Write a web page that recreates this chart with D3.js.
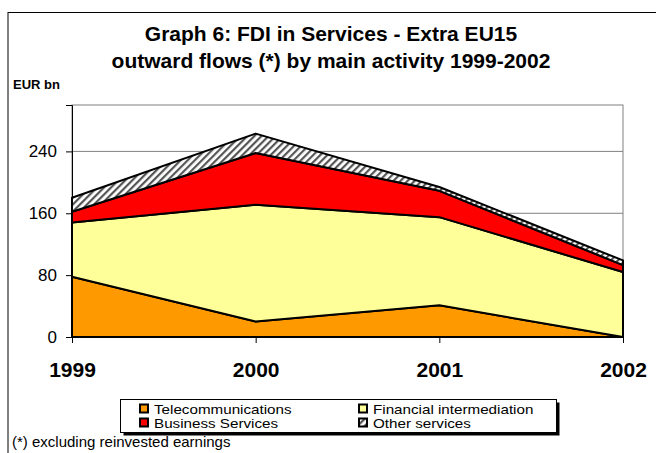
<!DOCTYPE html>
<html>
<head>
<meta charset="utf-8">
<script src="https://cdn.jsdelivr.net/npm/d3@7"></script>
<style>
  html, body { margin: 0; padding: 0; background: #fff; }
  svg { display: block; font-family: "Liberation Sans", Arial, sans-serif; }
</style>
</head>
<body>
<svg id="chart" width="656" height="453"></svg>
<script>
const years = ["1999", "2000", "2001", "2002"];
const telecom = [78, 20, 41, 0];
const financial = [70, 151, 114, 84];
const business = [14, 67, 34, 9];
const other = [18, 25, 5, 6];
const yTicks = [0, 80, 160, 240];
const seriesNames = ["Telecommunications", "Financial intermediation", "Business Services", "Other services"];
const titleLines = ["Graph 6: FDI in Services - Extra EU15", "outward flows (*) by main activity 1999-2002"];
const yUnit = "EUR bn";
const footnote = "(*) excluding reinvested earnings";

(function () {
const svg = d3.select("#chart");

// hatch pattern
const defs = svg.append("defs");
const pat = defs.append("pattern")
  .attr("id", "hatch").attr("patternUnits", "userSpaceOnUse")
  .attr("width", 5).attr("height", 5)
  .attr("patternTransform", "rotate(45)");
pat.append("rect").attr("width", 5).attr("height", 5).attr("fill", "#fff");
pat.append("rect").attr("width", 2.2).attr("height", 5).attr("fill", "#555");

// outer frame
svg.append("rect").attr("x", 8).attr("y", 12.5).attr("width", 700).attr("height", 500)
  .attr("fill", "none").attr("stroke", "#000").attr("stroke-width", 1);

// title
svg.append("g").selectAll("text").data(titleLines).join("text")
  .attr("x", 331).attr("y", (d, i) => 41 + i * 27)
  .attr("text-anchor", "middle").attr("font-weight", "bold").attr("font-size", 21)
  .text(d => d);

svg.append("text").attr("x", 13).attr("y", 89).attr("font-weight", "bold")
  .attr("font-size", 13).text(yUnit);

const pl = 72, pr = 623, pt = 105, pb = 337;
const x = d3.scalePoint().domain(years).range([pl, pr]);
const y = d3.scaleLinear().domain([0, 300]).range([pb, pt]);

// plot frame (grey) and gridline
svg.append("rect").attr("x", pl).attr("y", pt).attr("width", pr - pl).attr("height", pb - pt)
  .attr("fill", "none").attr("stroke", "#808080").attr("stroke-width", 1);
svg.append("g").selectAll("line").data(yTicks.filter(t => t > 0)).join("line")
  .attr("x1", pl).attr("x2", pr).attr("y1", d => y(d)).attr("y2", d => y(d))
  .attr("stroke", "#808080").attr("stroke-width", 1);

// stacked data
const rows = years.map((yr, i) => ({ year: yr, t: telecom[i], f: financial[i], b: business[i], o: other[i] }));
const stack = d3.stack().keys(["t", "f", "b", "o"]);
const layers = stack(rows);
const fills = ["#FF9900", "#FFFF99", "#FF0000", "url(#hatch)"];
const area = d3.area().x(d => x(d.data.year)).y0(d => y(d[0])).y1(d => y(d[1]));

svg.append("g").selectAll("path").data(layers).join("path")
  .attr("d", area)
  .attr("fill", (d, i) => fills[i])
  .attr("stroke", "#000").attr("stroke-width", 2).attr("stroke-linejoin", "round");

// axes
const yAxis = d3.axisLeft(y).tickValues(yTicks).tickSize(6).tickPadding(9);
const gy = svg.append("g").attr("transform", `translate(${pl},0)`).call(yAxis);
gy.select(".domain").attr("stroke", "#000");
gy.selectAll(".tick line").attr("stroke", "#000");
gy.selectAll("text").attr("font-size", 17).attr("fill", "#000")
  .attr("font-family", "Liberation Sans, Arial, sans-serif");

const xAxis = d3.axisBottom(x).tickSize(6).tickPadding(19);
const gx = svg.append("g").attr("transform", `translate(0,${pb})`).call(xAxis);
gx.select(".domain").attr("stroke", "#000");
gx.selectAll(".tick line").attr("stroke", "#000");
gx.selectAll("text").attr("font-size", 21).attr("font-weight", "bold").attr("fill", "#000")
  .attr("font-family", "Liberation Sans, Arial, sans-serif");

// legend
const lg = svg.append("g");
lg.append("rect").attr("x", 123.5).attr("y", 402.5).attr("width", 436).attr("height", 33).attr("fill", "#000");
lg.append("rect").attr("x", 120.5).attr("y", 399.5).attr("width", 436).attr("height", 33)
  .attr("fill", "#fff").attr("stroke", "#000").attr("stroke-width", 1);
const lpos = [[140, 409], [359, 409], [140, 423], [359, 423]];
const items = lg.selectAll("g.item").data(seriesNames).join("g").attr("class", "item")
  .attr("transform", (d, i) => `translate(${lpos[i][0]},${lpos[i][1]})`);
items.append("rect").attr("x", 0).attr("y", -4.5).attr("width", 8).attr("height", 8)
  .attr("fill", (d, i) => fills[i]).attr("stroke", "#000").attr("stroke-width", 2);
items.append("text").attr("transform", "translate(14,4.5) scale(1.17,1)")
  .attr("font-size", 13).text(d => d);

svg.append("text").attr("x", 12).attr("y", 447).attr("font-size", 15).text(footnote);
})();
</script>
</body>
</html>
